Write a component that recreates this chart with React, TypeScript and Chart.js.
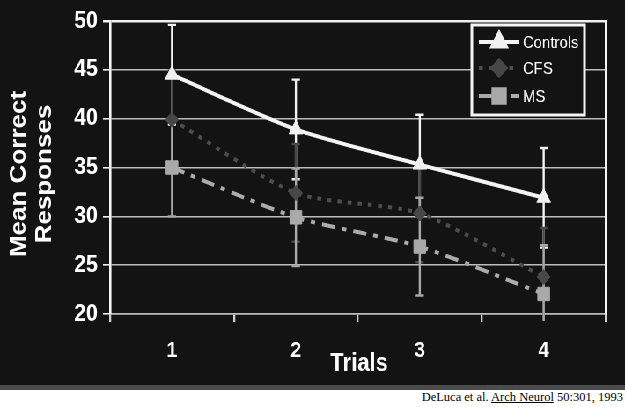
import React, { useEffect, useRef } from 'react';
import { Chart, registerables } from 'chart.js';
import { drawPoint } from 'chart.js/helpers';

Chart.register(...registerables);

// ---- data ----
const trials = ['1', '2', '3', '4'];
const seriesLabels = ['Controls', 'CFS', 'MS'];
const controlsMean = [44.5, 38.9, 35.3, 31.9];
const cfsMean = [39.9, 32.4, 30.3, 23.8];
const msMean = [35.0, 29.9, 26.9, 22.05];
const controlsErr = [5.1, 5.1, 5.1, 5.1];
const cfsErr = [5.0, 5.0, 5.0, 5.0];
const msErr = [5.0, 5.0, 5.0, 5.0];
const yMin = 20;
const yMax = 50;
const yStep = 5;
const yTitleLines = ['Mean Correct', 'Responses'];
const xTitle = 'Trials';
const citeAuthors = 'DeLuca et al. ';
const citeJournal = 'Arch Neurol';
const citeRest = ' 50:301, 1993';

// ---- layout (internal canvas is horizontally compressed like the source) ----
const SQUISH = 0.88;
const CW = Math.round(625 / SQUISH);
const CH = 385;
const FONT = '"Liberation Sans", Arial, sans-serif';

const errorBarsPlugin = {
  id: 'errorBars',
  beforeDatasetsDraw(chart: any) {
    const { ctx, chartArea } = chart;
    const y = chart.scales.y;
    ctx.save();
    ctx.beginPath();
    ctx.rect(chartArea.left, chartArea.top - 10, chartArea.right - chartArea.left, chartArea.bottom - chartArea.top + 17);
    ctx.clip();
    chart.data.datasets.forEach((ds: any, i: number) => {
      const meta = chart.getDatasetMeta(i);
      ctx.strokeStyle = ds.errColor;
      ctx.lineWidth = 2.4;
      ctx.setLineDash([]);
      meta.data.forEach((pt: any, j: number) => {
        const v = ds.data[j];
        const e = ds.errors[j];
        const yt = y.getPixelForValue(v + e);
        const yb = y.getPixelForValue(v - e);
        const cap = 4.6;
        ctx.beginPath();
        ctx.moveTo(pt.x, yt);
        ctx.lineTo(pt.x, yb);
        ctx.moveTo(pt.x - cap, yt);
        ctx.lineTo(pt.x + cap, yt);
        ctx.moveTo(pt.x - cap, yb);
        ctx.lineTo(pt.x + cap, yb);
        ctx.stroke();
      });
    });
    ctx.restore();
  },
};

const decorPlugin = {
  id: 'decor',
  beforeDraw(chart: any) {
    const { ctx } = chart;
    ctx.save();
    ctx.fillStyle = '#131313';
    ctx.fillRect(0, 0, chart.width, chart.height);
    ctx.restore();
  },
  afterDraw(chart: any) {
    const { ctx, chartArea } = chart;
    ctx.save();
    ctx.fillStyle = '#ffffff';
    // y axis title (two lines, rotated)
    ctx.font = `bold 26px ${FONT}`;
    ctx.textAlign = 'center';
    ctx.textBaseline = 'middle';
    const cy = 174;
    const xs = [22, 51];
    yTitleLines.forEach((line, k) => {
      ctx.save();
      ctx.translate(xs[k], cy);
      ctx.rotate(-Math.PI / 2);
      ctx.fillText(line, 0, 0);
      ctx.restore();
    });
    // x axis title
    ctx.font = `bold 25px ${FONT}`;
    ctx.textBaseline = 'alphabetic';
    ctx.fillText(xTitle, 408, 371);

    // legend box
    const bx = 536, by = 25, bw = 128, bh = 90;
    ctx.fillStyle = '#131313';
    ctx.fillRect(bx, by, bw, bh);
    ctx.strokeStyle = '#f5f5f5';
    ctx.lineWidth = 3;
    ctx.setLineDash([]);
    ctx.strokeRect(bx, by, bw, bh);
    const rows = [42, 68, 96];
    chart.data.datasets.forEach((ds: any, i: number) => {
      const ry = rows[i];
      ctx.save();
      ctx.strokeStyle = ds.borderColor;
      ctx.lineWidth = ds.borderWidth;
      ctx.setLineDash(ds.borderDash || []);
      ctx.beginPath();
      ctx.moveTo(544, ry);
      ctx.lineTo(590, ry);
      ctx.stroke();
      ctx.setLineDash([]);
      ctx.fillStyle = ds.pointBackgroundColor;
      ctx.strokeStyle = ds.pointBorderColor;
      drawPoint(ctx, { pointStyle: ds.pointStyle, radius: ds.pointRadius, rotation: 0, borderWidth: 1 }, 567, ry);
      ctx.restore();
      ctx.fillStyle = '#ffffff';
      ctx.font = `17px ${FONT}`;
      ctx.textAlign = 'left';
      ctx.textBaseline = 'middle';
      ctx.fillText(ds.label, 594, ry + 1);
    });
    ctx.restore();
  },
};

export default function App() {
  const ref = useRef<HTMLCanvasElement>(null);

  useEffect(() => {
    if (!ref.current) return;
    const chart = new Chart(ref.current, {
      type: 'line',
      data: {
        labels: trials,
        datasets: [
          {
            label: seriesLabels[0],
            data: controlsMean,
            errors: controlsErr,
            errColor: '#f2f2f2',
            borderColor: '#f4f4f4',
            borderWidth: 4,
            borderDash: [],
            tension: 0.25,
            pointStyle: 'triangle',
            pointRadius: 9,
            pointBackgroundColor: '#f0f0f0',
            pointBorderColor: '#f0f0f0',
            pointBorderWidth: 1,
          },
          {
            label: seriesLabels[1],
            data: cfsMean,
            errors: cfsErr,
            errColor: '#474747',
            borderColor: '#4d4d4d',
            borderWidth: 4,
            borderDash: [4.5, 7],
            tension: 0.25,
            pointStyle: 'rectRot',
            pointRadius: 7.5,
            pointBackgroundColor: '#474747',
            pointBorderColor: '#474747',
            pointBorderWidth: 1,
          },
          {
            label: seriesLabels[2],
            data: msMean,
            errors: msErr,
            errColor: '#a8a8a8',
            borderColor: '#ababab',
            borderWidth: 4,
            borderDash: [15, 8, 5, 8],
            tension: 0.25,
            pointStyle: 'rect',
            pointRadius: 9.5,
            pointBackgroundColor: '#a9a9a9',
            pointBorderColor: '#a9a9a9',
            pointBorderWidth: 1,
          },
        ] as any,
      },
      options: {
        responsive: false,
        animation: false,
        devicePixelRatio: 1,
        layout: { padding: { top: 21, right: 22, left: 0, bottom: 0 } },
        plugins: {
          legend: { display: false },
          tooltip: { enabled: false },
        },
        scales: {
          x: {
            type: 'category',
            offset: true,
            afterFit: (s: any) => { s.height = 71; },
            grid: {
              offset: true,
              drawOnChartArea: false,
              drawTicks: true,
              tickLength: 8,
              color: '#d0d0d0',
              lineWidth: 2.3,
            },
            border: { display: true, color: '#bdbdbd', width: 1.6 },
            ticks: {
              color: '#ffffff',
              font: { family: FONT, size: 22, weight: 'bold' },
              padding: 16,
              maxRotation: 0,
            },
          },
          y: {
            min: yMin,
            max: yMax,
            afterFit: (s: any) => { s.width = 125; },
            grid: {
              color: (c: any) => (c.tick && c.tick.value === yMax ? '#f0f0f0' : '#bdbdbd'),
              lineWidth: (c: any) => (c.tick && c.tick.value === yMax ? 2.5 : 1.6),
              tickColor: '#f5f5f5',
              tickLength: 8,
            },
            border: { display: true, color: '#f5f5f5', width: 2.6 },
            ticks: {
              stepSize: yStep,
              color: '#ffffff',
              padding: 6,
              font: { family: FONT, size: 24, weight: 'bold' },
            },
          },
          y2: {
            position: 'right',
            min: yMin,
            max: yMax,
            afterFit: (s: any) => { s.width = 0; },
            grid: { drawOnChartArea: false, drawTicks: false },
            border: { display: true, color: '#f5f5f5', width: 2.6 },
            ticks: { display: false },
          },
        },
      } as any,
      plugins: [errorBarsPlugin, decorPlugin],
    });
    return () => chart.destroy();
  }, []);

  return (
    <div style={{ position: 'fixed', left: 0, top: 0, width: 625, height: 407, background: '#ffffff', overflow: 'hidden' }}>
      <div style={{ width: CW, height: CH, transform: `scaleX(${625 / CW})`, transformOrigin: '0 0', background: '#131313' }}>
        <canvas ref={ref} width={CW} height={CH} style={{ display: 'block', width: CW, height: CH }} />
      </div>
      <div style={{ position: 'absolute', left: 0, top: 385, width: 625, height: 5, background: '#4b4b4b' }} />
      <div
        style={{
          position: 'absolute',
          right: 2,
          top: 390,
          fontFamily: '"Liberation Serif", "Times New Roman", serif',
          fontSize: 12.5,
          lineHeight: '14px',
          color: '#000',
          whiteSpace: 'nowrap',
        }}
      >
        {citeAuthors}
        <u>{citeJournal}</u>
        {citeRest}
      </div>
    </div>
  );
}
